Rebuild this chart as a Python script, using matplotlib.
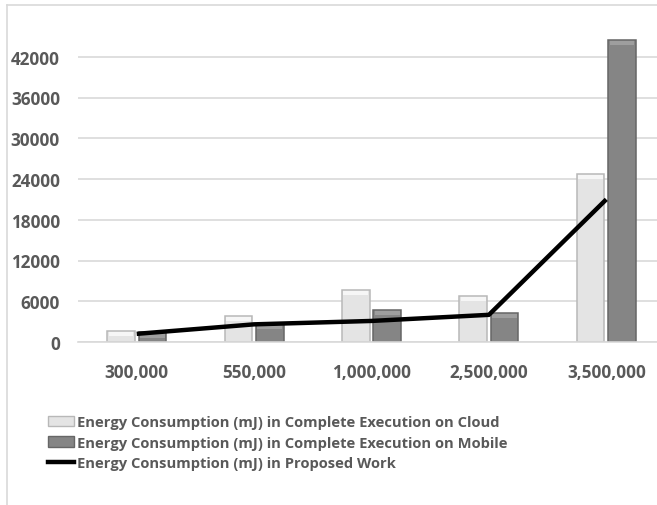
import matplotlib
matplotlib.use("Agg")
import matplotlib.pyplot as plt
from matplotlib.patches import Rectangle
from matplotlib.lines import Line2D
import numpy as np

categories = ["300,000", "550,000", "1,000,000", "2,500,000", "3,500,000"]
cloud_energy = [1600, 3800, 7700, 6800, 24700]
mobile_energy = [1400, 2700, 4700, 4300, 44500]
proposed_energy = [1200, 2600, 3100, 4000, 21000]
y_ticks = [0, 6000, 12000, 18000, 24000, 30000, 36000, 42000]

plt.rcParams["font.family"] = ["Open Sans", "DejaVu Sans"]

text_color = "#595959"
grid_color = "#d9d9d9"

fig = plt.figure(figsize=(6.57, 5.06), dpi=100)

# outer chart frame: left and top edges only
fig.add_artist(Line2D([7 / 657, 7 / 657], [0, 1 - 5.5 / 506], transform=fig.transFigure,
                      color=grid_color, linewidth=1.2))
fig.add_artist(Line2D([7 / 657, 1], [1 - 5.5 / 506, 1 - 5.5 / 506], transform=fig.transFigure,
                      color=grid_color, linewidth=1.2))

ax = fig.add_axes([78 / 657, 163 / 506, 587 / 657, 326 / 506])
x = np.arange(len(categories))
w = 0.235
off = 0.134
cap = 750  # bevel band at the top of each bar

cloud_face, cloud_edge, cloud_top = "#e4e4e4", "#b8b8b8", "#f6f6f6"
mob_face, mob_edge, mob_top = "#858585", "#666666", "#9e9e9e"


def bevel_bars(xpos, values, face, edge, top):
    values = np.array(values)
    ax.bar(xpos, values, w, color=face, linewidth=0, zorder=2)
    ax.bar(xpos, [cap] * len(values), w * 0.9, bottom=values - cap, color=top,
           linewidth=0, zorder=2)
    ax.bar(xpos, values, w, fill=False, edgecolor=edge, linewidth=1.1, zorder=2)


bevel_bars(x - off, cloud_energy, cloud_face, cloud_edge, cloud_top)
bevel_bars(x + off, mobile_energy, mob_face, mob_edge, mob_top)
ax.plot(x, proposed_energy, color="black", linewidth=3.2, solid_capstyle="butt", zorder=3)

ax.set_xlim(-0.5, len(categories) - 0.5)
ax.set_ylim(0, 48000)
ax.set_yticks(y_ticks)
ax.set_yticklabels([str(v) for v in y_ticks])
ax.set_xticks(x)
ax.set_xticklabels(categories)
ax.yaxis.grid(True, color=grid_color, linewidth=1.2, zorder=0)
ax.set_axisbelow(True)
for s in ["top", "right", "left"]:
    ax.spines[s].set_visible(False)
ax.spines["bottom"].set_color(grid_color)
ax.spines["bottom"].set_linewidth(1.2)
ax.tick_params(axis="both", length=0, labelsize=12.3, labelcolor=text_color)
ax.tick_params(axis="y", pad=13)
ax.tick_params(axis="x", pad=15)
for lab in ax.get_xticklabels() + ax.get_yticklabels():
    lab.set_fontweight("bold")

handles = [
    Rectangle((0, 0), 1, 1, facecolor=cloud_face, edgecolor=cloud_edge),
    Rectangle((0, 0), 1, 1, facecolor=mob_face, edgecolor=mob_edge),
    Line2D([0], [0], color="black", linewidth=3.2),
]
labels = [
    "Energy Consumption (mJ) in Complete Execution on Cloud",
    "Energy Consumption (mJ) in Complete Execution on Mobile",
    "Energy Consumption (mJ) in Proposed Work",
]
leg = fig.legend(handles, labels, loc="upper left", bbox_to_anchor=(44 / 657, 1 - 412 / 506),
                 frameon=False, fontsize=10.6, handlelength=1.75, handleheight=0.7,
                 handletextpad=0.2, labelspacing=0.42, borderaxespad=0, borderpad=0.3)
for t in leg.get_texts():
    t.set_color(text_color)
    t.set_fontweight("bold")

fig.savefig("out.png", dpi=100)
